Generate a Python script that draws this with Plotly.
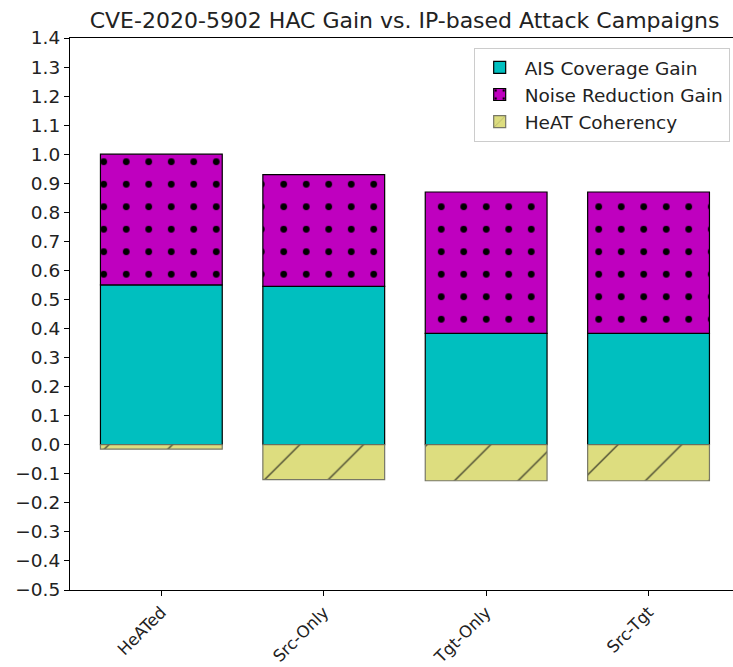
import plotly.graph_objects as go

categories = ["HeATed", "Src-Only", "Tgt-Only", "Src-Tgt"]
ais_coverage_gain = [0.55, 0.545, 0.383, 0.383]
noise_reduction_gain = [0.45, 0.385, 0.487, 0.487]
heat_coherency = [-0.015, -0.12, -0.124, -0.124]
y_ticks = [round(-0.5 + 0.1 * i, 1) for i in range(20)]

FONT = "DejaVu Sans"
BASE = 18.5
x_pos = list(range(len(categories)))

fig = go.Figure()
fig.add_trace(go.Bar(
    x=x_pos, y=ais_coverage_gain, name="AIS Coverage Gain", width=0.75,
    marker=dict(color="#00bfbf", line=dict(color="black", width=1.2)),
))
fig.add_trace(go.Bar(
    x=x_pos, y=noise_reduction_gain, name="Noise Reduction Gain", width=0.75,
    marker=dict(color="#bf00bf", line=dict(color="black", width=1.2),
                pattern=dict(shape=".", size=22.5, solidity=0.07,
                             fgcolor="black", bgcolor="#bf00bf", fillmode="replace")),
))
fig.add_trace(go.Bar(
    x=x_pos, y=heat_coherency, name="HeAT Coherency", width=0.75,
    marker=dict(color="#dddd7f", line=dict(color="#777766", width=1.2),
                pattern=dict(shape="/", size=45, solidity=0.03,
                             fgcolor="#44442e", bgcolor="#dddd7f", fillmode="replace")),
))

fig.update_layout(
    width=733, height=667,
    barmode="relative",
    plot_bgcolor="white", paper_bgcolor="white",
    margin=dict(l=70, r=0, t=38, b=77),
    font=dict(family=FONT, size=BASE, color="#222222"),
    title=dict(text="CVE-2020-5902 HAC Gain vs. IP-based Attack Campaigns",
               x=0.552, xanchor="center", y=0.97, yanchor="middle",
               font=dict(family=FONT, size=22, color="#222222")),
    legend=dict(x=0.995, y=0.982, xanchor="right", yanchor="top",
                bgcolor="rgba(255,255,255,0.8)", bordercolor="#cccccc", borderwidth=1,
                font=dict(family=FONT, size=BASE), traceorder="normal",
                itemwidth=40, tracegroupgap=2),
    showlegend=True,
)
fig.update_xaxes(
    range=[-0.5625, 3.52], tickmode="array", tickvals=x_pos, ticktext=categories,
    tickangle=-45, ticks="outside", ticklen=5, tickcolor="black",
    showline=True, linecolor="black", linewidth=1.2, mirror=True,
    showgrid=False, zeroline=False, automargin=False,
    tickfont=dict(family=FONT, size=16.5),
)
fig.update_yaxes(
    range=[-0.5, 1.4], tickmode="array", tickvals=y_ticks,
    ticktext=[f"{v:.1f}".replace("-", "\u2212") for v in y_ticks],
    ticks="outside", ticklen=5, tickcolor="black",
    showline=True, linecolor="black", linewidth=1.2,
    showgrid=False, zeroline=False, automargin=False,
    tickfont=dict(family=FONT, size=BASE),
)

fig.write_html("out.html")
